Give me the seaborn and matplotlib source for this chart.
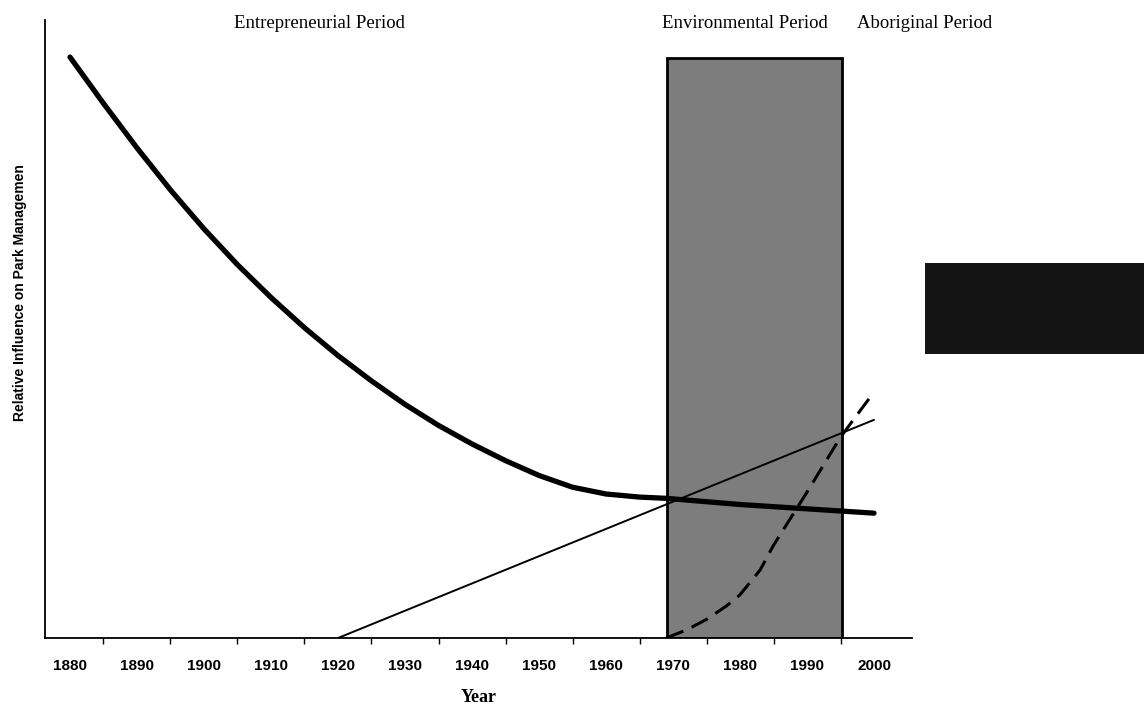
import matplotlib
matplotlib.use("Agg")
import matplotlib.pyplot as plt
import seaborn as sns
import pandas as pd
from matplotlib.patches import Rectangle

# ---- data ----
years_ent = [1880, 1885, 1890, 1895, 1900, 1905, 1910, 1915, 1920, 1925, 1930,
             1935, 1940, 1945, 1950, 1955, 1960, 1965, 1969, 1980, 1990, 2000]
infl_ent = [94.0, 86.5, 79.3, 72.5, 66.2, 60.4, 55.1, 50.2, 45.7, 41.6, 37.8,
            34.4, 31.4, 28.7, 26.3, 24.4, 23.3, 22.8, 22.6, 21.6, 20.9, 20.2]

years_env = [1920, 2000]
infl_env = [0.0, 35.3]

years_abo = [1969, 1972, 1975, 1978, 1980, 1983, 1985, 1990, 1995, 2000]
infl_abo = [0.0, 1.3, 3.0, 5.2, 7.0, 11.0, 15.0, 23.6, 32.5, 39.8]

period_start = 1969.1
period_end = 1995.2

tick_years = [1880, 1890, 1900, 1910, 1920, 1930, 1940, 1950, 1960, 1970, 1980, 1990, 2000]
period_labels = ["Entrepreneurial Period", "Environmental Period", "Aboriginal Period"]

sns.set_style("white")
plt.rcParams['font.family'] = ['Liberation Sans', 'DejaVu Sans']
plt.rcParams['text.color'] = 'black'
plt.rcParams['axes.labelcolor'] = 'black'
plt.rcParams['xtick.color'] = 'black'
plt.rcParams['ytick.color'] = 'black'

fig = plt.figure(figsize=(11.44, 7.07), dpi=100)
ax = fig.add_axes([45 / 1144, 1 - 638 / 707, (912 - 45) / 1144, (638 - 20) / 707])

df_ent = pd.DataFrame({"Year": years_ent, "Influence": infl_ent})
df_env = pd.DataFrame({"Year": years_env, "Influence": infl_env})
df_abo = pd.DataFrame({"Year": years_abo, "Influence": infl_abo})

# shaded environmental period box
ax.axvspan(period_start, period_end, ymin=0, ymax=(638 - 58) / 618,
           facecolor="#7d7d7d", edgecolor="black", linewidth=2, zorder=1)

sns.lineplot(data=df_ent, x="Year", y="Influence", ax=ax, color="black",
             linewidth=3.8, zorder=3)
ax.lines[-1].set_solid_capstyle("round")
ax.lines[-1].set_solid_joinstyle("round")
sns.lineplot(data=df_env, x="Year", y="Influence", ax=ax, color="black",
             linewidth=1.4, zorder=3)
sns.lineplot(data=df_abo, x="Year", y="Influence", ax=ax, color="black",
             linewidth=2.2, zorder=3)
ax.lines[-1].set_dashes([6, 3])

ax.set_xlim(1876.27, 2005.67)
ax.set_ylim(0, 100)

for s in ["top", "right"]:
    ax.spines[s].set_visible(False)
for s in ["left", "bottom"]:
    ax.spines[s].set_color("black")
    ax.spines[s].set_linewidth(1.3)

ax.set_yticks([])
ax.set_xticks(tick_years)
ax.set_xticklabels([str(y) for y in tick_years], fontsize=11, fontweight="bold", color="black")
ax.set_xticks([y + 5 for y in tick_years[:-1]], minor=True)
ax.tick_params(axis="x", which="major", length=0, pad=15)
ax.tick_params(axis="x", which="minor", length=4, width=1, color="black", direction="out", bottom=True)

ax.set_xlabel("Year", family="Liberation Serif", fontsize=13, fontweight="bold",
              labelpad=12, color="black")
ax.set_ylabel("")

fig.text(20 / 1144, 1 - 293 / 707, "Relative Influence on Park Managemen", rotation=90,
         ha="center", va="center", fontsize=10, fontweight="bold", color="black")

label_x = [319, 745, 925]
for lx, lab in zip(label_x, period_labels):
    fig.text(lx / 1144, 1 - 23 / 707, lab, ha="center", va="center",
             family="Liberation Serif", fontsize=13.5, color="black")

# unlabeled dark legend patch
fig.patches.append(Rectangle((925 / 1144, 1 - 354 / 707), (1144 - 925) / 1144, 91 / 707,
                             transform=fig.transFigure, facecolor="#141414", edgecolor="none"))

fig.savefig("out.png", dpi=100)
